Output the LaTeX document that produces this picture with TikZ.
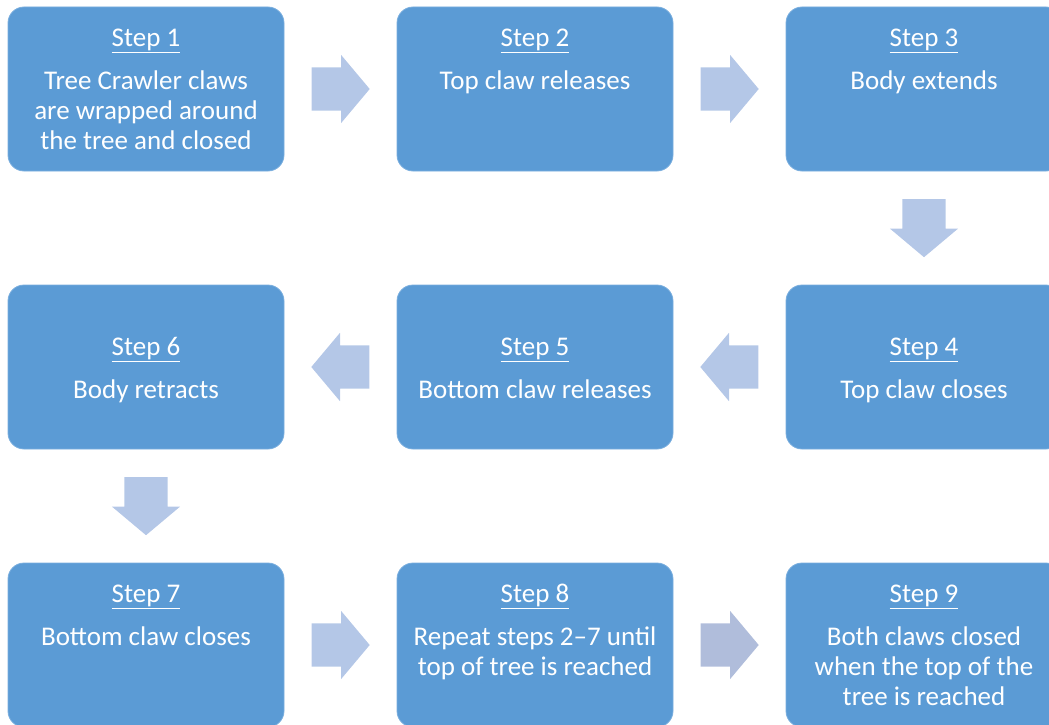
\documentclass[tikz,border=0pt]{standalone}
\usepackage{fontspec}
\setmainfont{Carlito}
\usetikzlibrary{positioning}
\usetikzlibrary{calc}
\usetikzlibrary{shapes.arrows}

\definecolor{boxblue}{RGB}{91,155,213}
\definecolor{boxedge}{RGB}{122,174,222}
\definecolor{arrowblue}{RGB}{180,199,231}
\definecolor{arrowgrey}{RGB}{176,189,219}

\begin{document}
\begin{tikzpicture}[x=1pt, y=1pt,
				stepbox/.style={rectangle,rounded corners=16pt,minimum width=276pt,minimum height=164pt,inner sep=0pt,outer sep=0pt,fill=boxblue,draw=boxedge,line width=0.8pt},
				steptext/.style={text=white,align=center,inner sep=0pt,font=\fontsize{27}{30}\selectfont},
				blockarrow/.style={single arrow,fill=arrowblue,inner xsep=0pt,inner ysep=21.5pt,minimum height=58pt,single arrow head extend=12.5pt,single arrow head indent=0pt,single arrow tip angle=100,anchor=tail}]

				\clip (0,0) rectangle (1049,-725);

				% boxes
				\node (s1) [stepbox] at (146,-89) {};
				\node (s2) [stepbox,right=113pt of s1] {};
				\node (s3) [stepbox,right=113pt of s2] {};
				\node (s4) [stepbox,below=114pt of s3] {};
				\node (s5) [stepbox,left=113pt of s4] {};
				\node (s6) [stepbox,left=113pt of s5] {};
				\node (s7) [stepbox,below=114pt of s6] {};
				\node (s8) [stepbox,right=113pt of s7] {};
				\node (s9) [stepbox,right=113pt of s8] {};

				% texts
				\node (t1) [steptext,below=19pt of s1.north] {\rule{0pt}{20pt}\underline{Step 1}\\[13pt]Tree Crawler claws\\are wrapped around\\the tree and closed};
				\node (t2) [steptext,below=19pt of s2.north] {\rule{0pt}{20pt}\underline{Step 2}\\[13pt]Top claw releases};
				\node (t3) [steptext,below=19pt of s3.north] {\rule{0pt}{20pt}\underline{Step 3}\\[13pt]Body extends};
				\node (t4) [steptext,below=50pt of s4.north] {\rule{0pt}{20pt}\underline{Step 4}\\[13pt]Top claw closes};
				\node (t5) [steptext,below=50pt of s5.north] {\rule{0pt}{20pt}\underline{Step 5}\\[13pt]Bottom claw releases};
				\node (t6) [steptext,below=50pt of s6.north] {\rule{0pt}{20pt}\underline{Step 6}\\[13pt]Body retracts};
				\node (t7) [steptext,below=19pt of s7.north] {\rule{0pt}{20pt}\underline{Step 7}\\[13pt]Bottom claw closes};
				\node (t8) [steptext,below=19pt of s8.north] {\rule{0pt}{20pt}\underline{Step 8}\\[13pt]Repeat steps 2--7 until\\top of tree is reached};
				\node (t9) [steptext,below=19pt of s9.north] {\rule{0pt}{20pt}\underline{Step 9}\\[13pt]Both claws closed\\when the top of the\\tree is reached};

				% arrows
				\node (a12) [blockarrow] at ($(s1.east)!.5!(s2.west)+(-29,0)$) {};
				\node (a23) [blockarrow] at ($(s2.east)!.5!(s3.west)+(-29,0)$) {};
				\node (a34) [blockarrow,rotate=-90] at ($(s3.south)!.5!(s4.north)+(0,29)$) {};
				\node (a45) [blockarrow,rotate=180] at ($(s4.west)!.5!(s5.east)+(29,0)$) {};
				\node (a56) [blockarrow,rotate=180] at ($(s5.west)!.5!(s6.east)+(29,0)$) {};
				\node (a67) [blockarrow,rotate=-90] at ($(s6.south)!.5!(s7.north)+(0,29)$) {};
				\node (a78) [blockarrow] at ($(s7.east)!.5!(s8.west)+(-29,0)$) {};
				\node (a89) [blockarrow,fill=arrowgrey] at ($(s8.east)!.5!(s9.west)+(-29,0)$) {};
			\end{tikzpicture}
\end{document}
